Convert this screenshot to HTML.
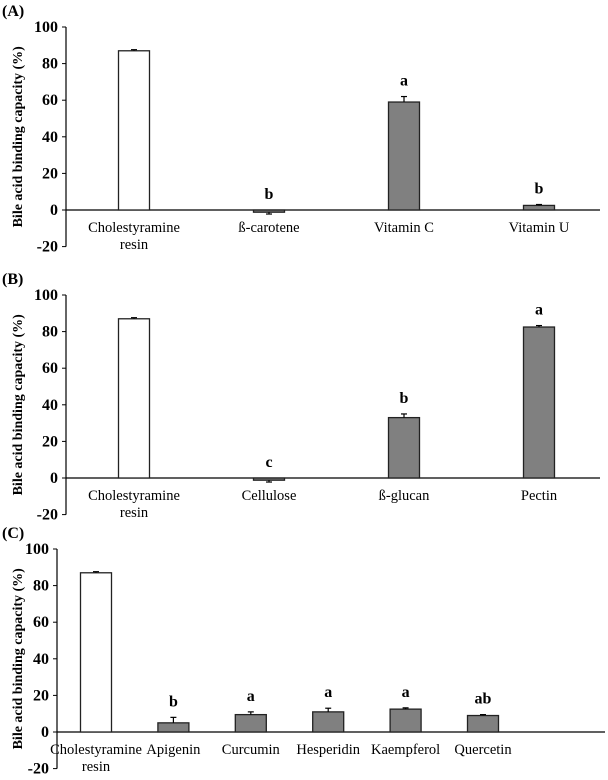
<!DOCTYPE html>
<html><head><meta charset="utf-8"><style>
body{margin:0;background:#fff}
svg{display:block;font-family:"Liberation Serif","Times New Roman",serif}
</style></head><body>
<svg id="c" width="608" height="780"></svg>
<script>
const catsA=["Cholestyramine|resin","ß-carotene","Vitamin C","Vitamin U"];
const valsA=[87,-1.2,59,2.5];
const errsA=[0.6,1,3,0.5];
const letA=["","b","a","b"];
const catsB=["Cholestyramine|resin","Cellulose","ß-glucan","Pectin"];
const valsB=[87,-1.2,33,82.5];
const errsB=[0.6,1,2,0.8];
const letB=["","c","b","a"];
const catsC=["Cholestyramine|resin","Apigenin","Curcumin","Hesperidin","Kaempferol","Quercetin"];
const valsC=[87,5,9.5,11,12.5,9];
const errsC=[0.6,3,1.5,2,0.7,0.5];
const letC=["","b","a","a","a","ab"];
const ticks=[100,80,60,40,20,0,-20];
const NS="http://www.w3.org/2000/svg";
const svg=document.getElementById('c');
function mk(t,a,p){const e=document.createElementNS(NS,t);for(const k in a)e.setAttribute(k,a[k]);(p||svg).appendChild(e);return e;}
function panel(id,title,top,axisX,x0,step,bw,endX,cats,vals,errs,lets){
  const g=mk('g',{});
  
  
  const y=v=>top+(100-v)*1.83;
  const t=mk('text',{x:2,y:top-11,'font-size':16,'font-weight':'bold'},g);t.textContent=title;
  
  const yt=mk('text',{x:0,y:0,'font-size':14,'font-weight':'bold','text-anchor':'middle',transform:`translate(22,${y(40)}) rotate(-90)`},g);
  yt.textContent="Bile acid binding capacity (%)";
  
  mk('line',{x1:axisX,x2:axisX,y1:y(100),y2:y(-20),stroke:'#000','stroke-width':1.2},g);
  ticks.forEach(v=>{
    mk('line',{x1:axisX-4,x2:axisX,y1:y(v),y2:y(v),stroke:'#000'},g);
    const tl=mk('text',{x:axisX-8,y:y(v)+5,'font-size':16,'font-weight':'bold','text-anchor':'end'},g);
    tl.textContent=v;
    
  });
  mk('line',{x1:axisX,x2:endX,y1:y(0),y2:y(0),stroke:'#000','stroke-width':1.2},g);
  cats.forEach((c,i)=>{
    const cx=x0+i*step,v=vals[i];
    const r=mk('rect',{x:cx-bw/2,y:Math.min(y(v),y(0)),width:bw,height:Math.max(Math.abs(y(v)-y(0)),1.5),fill:i==0?'#fff':'#808080',stroke:'#222','stroke-width':1.3},g);
    
    const e=v>=0?v+errs[i]:v-errs[i];
    mk('line',{x1:cx,x2:cx,y1:y(v),y2:y(e),stroke:'#000','stroke-width':1.2},g);
    mk('line',{x1:cx-3,x2:cx+3,y1:y(e),y2:y(e),stroke:'#000','stroke-width':1.2},g);
    if(lets[i]){const l=mk('text',{x:cx,y:y(Math.max(v+errs[i],0))-11,'font-size':16,'font-weight':'bold','text-anchor':'middle'},g);
      l.textContent=lets[i];}
    c.split('|').forEach((s,k)=>{const tl=mk('text',{x:cx,y:y(0)+22+k*17,'font-size':14.5,'text-anchor':'middle'},g);
      tl.textContent=s;});
  });
}
panel('a','(A)',27,66,134,135,31,600,catsA,valsA,errsA,letA);
panel('b','(B)',295,66,134,135,31,600,catsB,valsB,errsB,letB);
panel('c','(C)',549,57,96,77.4,31,605,catsC,valsC,errsC,letC);
</script>
</body></html>
